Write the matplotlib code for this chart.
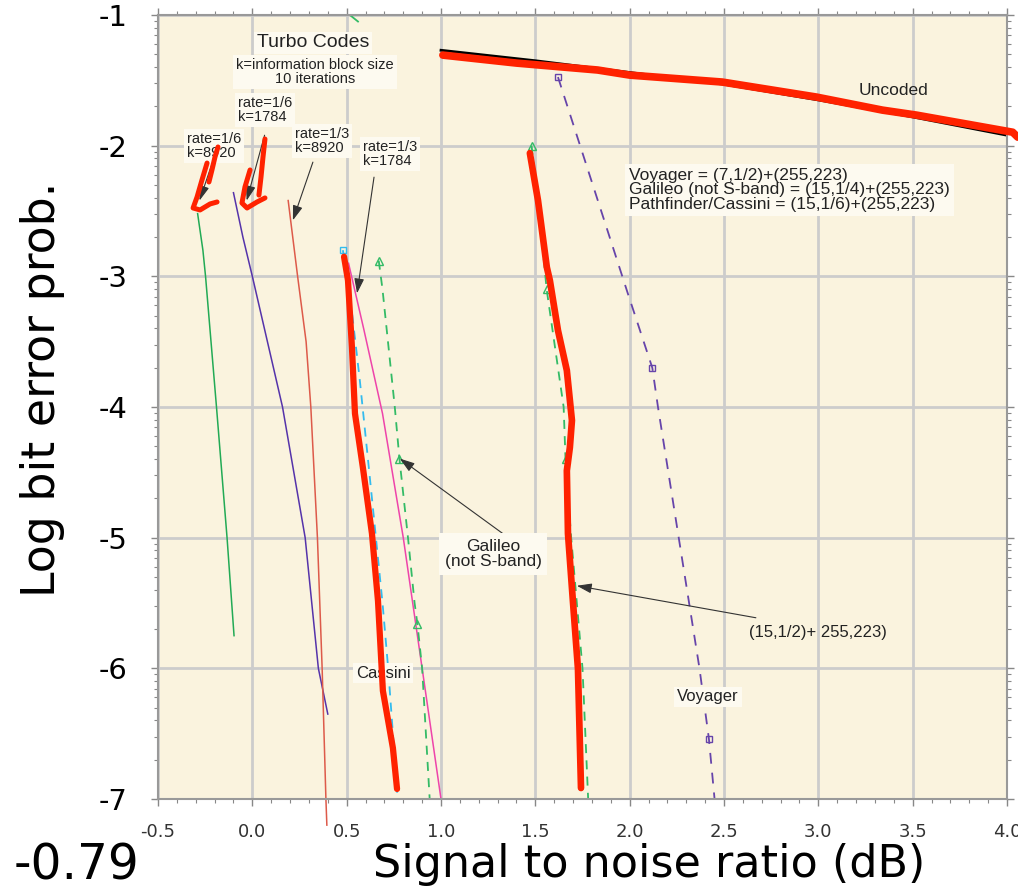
import numpy as np
import matplotlib
matplotlib.use('Agg')
import matplotlib.pyplot as plt
from matplotlib.ticker import FixedLocator, MultipleLocator

# Values: x = Eb/N0 (dB), y = log10(bit error prob.)
uncoded_x = [1.0, 1.5, 2.0, 2.5, 3.0, 3.5, 4.0]
uncoded_y = [-1.27, -1.35, -1.44, -1.53, -1.65, -1.78, -1.92]

# turbo codes, 10 iterations
r6_k8920_x = [-0.29, -0.262, -0.248, -0.19, -0.134, -0.097]
r6_k8920_y = [-2.52, -2.8, -3.0, -4.0, -5.0, -5.75]
r6_k1784_x = [-0.10, -0.05, 0.0, 0.08, 0.16, 0.28, 0.35, 0.40]
r6_k1784_y = [-2.36, -2.7, -3.0, -3.5, -4.0, -5.0, -6.0, -6.35]
r3_k8920_x = [0.19, 0.24, 0.285, 0.31, 0.345, 0.37, 0.39, 0.395]
r3_k8920_y = [-2.42, -3.0, -3.5, -4.0, -5.0, -6.0, -7.0, -7.2]
r3_k1784_x = [0.51, 0.59, 0.69, 0.80, 0.90, 1.0]
r3_k1784_y = [-2.9, -3.4, -4.05, -5.0, -6.0, -7.0]

# concatenated codes
cassini_x = [0.48, 0.53, 0.57, 0.62, 0.69, 0.72, 0.77]
cassini_y = [-2.8, -3.3, -3.8, -4.5, -5.5, -6.0, -7.0]
galileo_x = [0.67, 0.69, 0.755, 0.78, 0.825, 0.86, 0.875, 0.90, 0.94]
galileo_y = [-2.88, -3.1, -4.0, -4.4, -5.0, -5.5, -5.66, -6.0, -7.0]
galileo_top_x = [0.517, 0.56]
galileo_top_y = [-1.0, -1.05]
c15_x = [1.48, 1.52, 1.56, 1.65, 1.66, 1.69, 1.72, 1.75, 1.78]
c15_y = [-2.0, -2.5, -3.1, -4.0, -4.4, -5.0, -5.5, -6.0, -7.0]
voyager_x = [1.62, 1.99, 2.12, 2.15, 2.26, 2.37, 2.42, 2.45]
voyager_y = [-1.475, -3.13, -3.70, -4.0, -5.0, -6.0, -6.54, -7.0]

# red hand-drawn marks over the scanned chart
red_uncoded_x = [1.01, 1.40, 1.83, 2.0, 2.49, 2.99, 3.34, 3.52, 4.03, 4.057]
red_uncoded_y = [-1.307, -1.368, -1.421, -1.46, -1.513, -1.628, -1.728, -1.766, -1.897, -1.935]
red_cassini_x = [0.486, 0.491, 0.507, 0.528, 0.544, 0.586, 0.634, 0.666, 0.692, 0.745, 0.767]
red_cassini_y = [-2.85, -2.893, -3.031, -3.544, -4.05, -4.464, -4.969, -5.483, -6.172, -6.609, -6.923]
red_c15_x = [1.471, 1.514, 1.561, 1.577, 1.620, 1.667, 1.694, 1.683, 1.667, 1.673, 1.699, 1.726, 1.742]
red_c15_y = [-2.057, -2.418, -2.931, -3.031, -3.414, -3.72, -4.103, -4.31, -4.487, -4.969, -5.483, -6.004, -6.916]
red_hook1a_x = [-0.182, -0.198, -0.214, -0.230]
red_hook1a_y = [-2.010, -2.087, -2.186, -2.278]
red_hook1b_x = [-0.240, -0.267, -0.293, -0.314, -0.277, -0.224, -0.187]
red_hook1b_y = [-2.133, -2.263, -2.393, -2.477, -2.492, -2.446, -2.431]
red_hook2a_x = [0.067, 0.0565, 0.046, 0.035]
red_hook2a_y = [-1.949, -2.087, -2.240, -2.378]
red_hook2b_x = [-0.012, -0.039, -0.055, -0.028, 0.025, 0.067]
red_hook2b_y = [-2.186, -2.316, -2.439, -2.477, -2.431, -2.400]

x_ticks = [-0.5, 0.0, 0.5, 1.0, 1.5, 2.0, 2.5, 3.0, 3.5, 4.0]
x_labels = ['-0.5', '0.0', '0.5', '1.0', '1.5', '2.0', '2.5', '3.0', '3.5', '4.0']
y_ticks = [-7, -6, -5, -4, -3, -2, -1]
y_labels = ['-7', '-6', '-5', '-4', '-3', '-2', '-1']

legend_text = ("Voyager = (7,1/2)+(255,223)\n"
               "Galileo (not S-band) = (15,1/4)+(255,223)\n"
               "Pathfinder/Cassini = (15,1/6)+(255,223)")

W, H = 1018, 890
fig = plt.figure(figsize=(W / 100, H / 100), dpi=100)
ax = fig.add_axes([158 / W, 1 - 799 / H, 849 / W, 784 / H])
ax.set_facecolor('#FAF3DE')
ax.set_xlim(-0.5, 4.0)
ax.set_ylim(-7, -1)

ax.set_xticks(x_ticks, x_labels)
ax.set_yticks(y_ticks, y_labels)
ax.xaxis.set_minor_locator(MultipleLocator(0.1))
ax.yaxis.set_minor_locator(FixedLocator(
    [n + np.log10(k) for n in range(-7, -1) for k in range(2, 10)]))
ax.tick_params(which='both', direction='out', top=True, right=True, color='#888')
ax.tick_params(which='major', length=5, width=1)
ax.tick_params(which='minor', length=3, width=0.8)
ax.tick_params(axis='x', labelsize=13, labelcolor='#333', pad=12)
ax.tick_params(axis='y', labelsize=21, pad=17)
ax.grid(True, which='major', color='#cccccc', lw=2, zorder=0)
ax.set_axisbelow(True)
for s in ax.spines.values():
    s.set_color('#999')
    s.set_linewidth(1.5)

# curves
ax.plot(uncoded_x, uncoded_y, color='black', lw=2, zorder=2)
ax.plot(r6_k8920_x, r6_k8920_y, color='#22AA55', lw=1.1, zorder=2)
ax.plot(r6_k1784_x, r6_k1784_y, color='#5533AA', lw=1.1, zorder=2)
ax.plot(r3_k8920_x, r3_k8920_y, color='#DD5A4A', lw=1.1, zorder=2, clip_on=False)
ax.plot(r3_k1784_x, r3_k1784_y, color='#EE44AA', lw=1.1, zorder=2)
ax.plot(cassini_x, cassini_y, color='#33BBEE', lw=1.3, dashes=(5, 4), zorder=2,
        marker='s', markevery=[0], ms=5, mfc='none', mec='#33BBEE')
ax.plot(galileo_x, galileo_y, color='#33BB66', lw=1.3, dashes=(5, 4), zorder=2,
        marker='^', markevery=[0, 3, 6], ms=6, mfc='none', mec='#33BB66')
ax.plot(galileo_top_x, galileo_top_y, color='#33BB66', lw=1.3, zorder=2)
ax.plot(c15_x, c15_y, color='#33BB66', lw=1.3, dashes=(5, 4), zorder=2,
        marker='^', markevery=[0, 2, 4], ms=6, mfc='none', mec='#33BB66')
ax.plot(voyager_x, voyager_y, color='#6644AA', lw=1.3, dashes=(6, 5), zorder=2,
        marker='s', markevery=[0, 2, 6], ms=5, mfc='none', mec='#6644AA')

# black pointer arrows
arrows = [((-0.20, -2.08), (-0.28, -2.42)),
          ((0.065, -1.92), (-0.03, -2.42)),
          ((0.321, -2.126), (0.215, -2.571)),
          ((0.645, -2.241), (0.555, -3.13)),
          ((1.328, -4.969), (0.782, -4.395)),
          ((2.669, -5.613), (1.72, -5.368))]
for start, tip in arrows:
    ax.annotate('', xy=tip, xytext=start, zorder=3,
                arrowprops=dict(arrowstyle='-|>,head_length=0.9,head_width=0.3',
                                color='#333', lw=0.8, shrinkA=0, shrinkB=0))

box = dict(facecolor='#FDFAF0', edgecolor='none', pad=2)
lab = dict(family='Liberation Sans', color='#222', zorder=4)
ax.text(0.3215, -1.214, 'Turbo Codes', fontsize=14, ha='center', va='center', bbox=box, **lab)
ax.text(0.332, -1.436, 'k=information block size\n10 iterations', fontsize=10.5,
        ha='center', va='center', linespacing=1.05, bbox=box, **lab)
ax.text(-0.076, -1.727, 'rate=1/6\nk=1784', fontsize=10.5, ha='left', va='center',
        linespacing=1.0, bbox=box, **lab)
ax.text(-0.346, -2.0025, 'rate=1/6\nk=8920', fontsize=10.5, ha='left', va='center',
        linespacing=1.0, bbox=box, **lab)
ax.text(0.226, -1.964, 'rate=1/3\nk=8920', fontsize=10.5, ha='left', va='center',
        linespacing=1.0, bbox=box, **lab)
ax.text(0.5865, -2.064, 'rate=1/3\nk=1784', fontsize=10.5, ha='left', va='center',
        linespacing=1.0, bbox=box, **lab)
ax.text(3.396, -1.574, 'Uncoded', fontsize=12.5, ha='center', va='center', **lab)
ax.text(1.996, -2.339, legend_text, fontsize=12.5, ha='left', va='center',
        linespacing=0.95, bbox=dict(facecolor='#FDFAF0', edgecolor='none', pad=3), **lab)
ax.text(1.276, -5.125, 'Galileo\n(not S-band)', fontsize=12.5, ha='center', va='center',
        linespacing=1.0, bbox=dict(facecolor='#FDFAF0', edgecolor='none', pad=4), **lab)
ax.text(2.998, -5.722, '(15,1/2)+ 255,223)', fontsize=12, ha='center', va='center', **lab)
ax.text(0.6926, -6.036, 'Cassini', fontsize=12, ha='center', va='center', bbox=box, **lab)
ax.text(2.415, -6.219, 'Voyager', fontsize=12, ha='center', va='center', bbox=box, **lab)

# red hand-drawn highlights
red = dict(color='#FF2200', solid_capstyle='round', solid_joinstyle='round',
           zorder=5, clip_on=False)
ax.plot(red_uncoded_x, red_uncoded_y, lw=5.5, **red)
ax.plot(red_cassini_x, red_cassini_y, lw=4.5, **red)
ax.plot(red_c15_x, red_c15_y, lw=4.8, **red)
for hx, hy in [(red_hook1a_x, red_hook1a_y), (red_hook1b_x, red_hook1b_y),
               (red_hook2a_x, red_hook2a_y), (red_hook2b_x, red_hook2b_y)]:
    ax.plot(hx, hy, lw=3.6, **red)

# slide text around the plot
fig.text(649 / W, 1 - 864 / H, 'Signal to noise ratio (dB)', fontsize=32,
         ha='center', va='center')
fig.text(43 / W, 1 - 389 / H, 'Log bit error prob.', fontsize=33, rotation=90,
         ha='center', va='center')
fig.text(76 / W, 1 - 866 / H, '-0.79', fontsize=35, ha='center', va='center')

fig.savefig('out.png', dpi=100)
